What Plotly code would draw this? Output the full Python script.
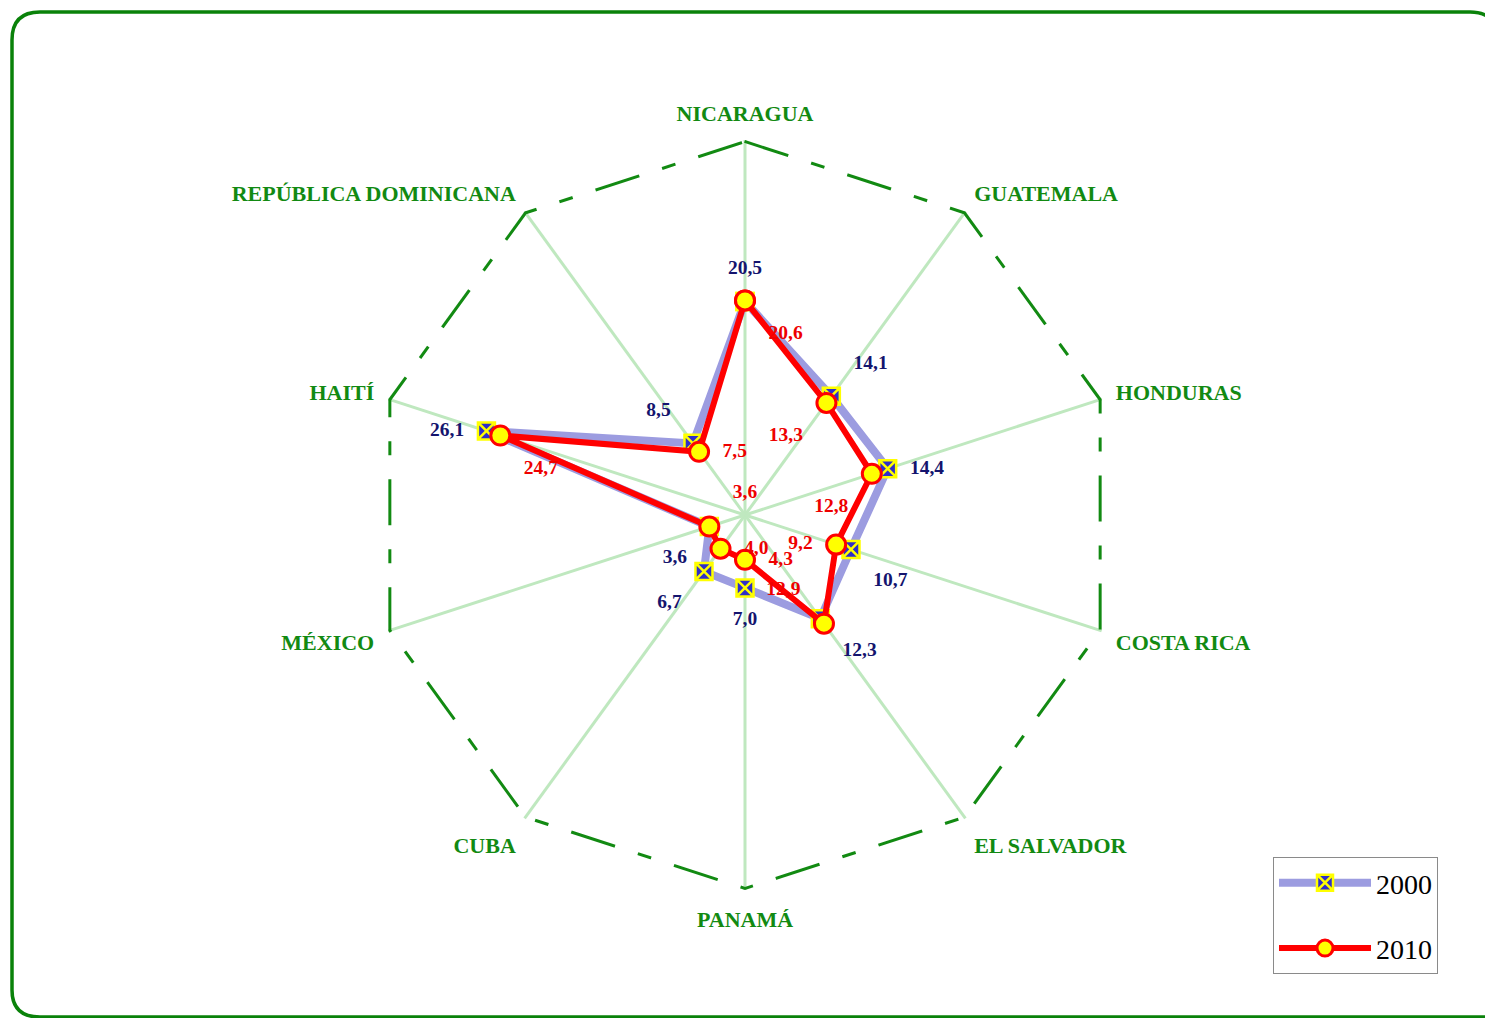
import plotly.graph_objects as go

# ---------------- data ----------------
categories = ["NICARAGUA", "GUATEMALA", "HONDURAS", "COSTA RICA", "EL SALVADOR",
              "PANAMÁ", "CUBA", "MÉXICO", "HAITÍ", "REPÚBLICA DOMINICANA"]
values_2000 = [20.5, 14.1, 14.4, 10.7, 12.3, 7.0, 6.7, 3.6, 26.1, 8.5]
values_2010 = [20.6, 13.3, 12.8, 9.2, 12.9, 4.3, 4.0, 3.6, 24.7, 7.5]
series_names = ["2000", "2010"]
axis_max = 36

# ---------------- styling ----------------
W, H = 1485, 1018
SERIF = "Liberation Serif, Times New Roman, serif"
GREEN = "#128a12"

pos_2000 = ["top center", "top right", "middle right", "bottom right", "bottom right",
            "bottom center", "bottom left", "bottom left", "middle left", "top left"]
pos_2010 = ["bottom right", "bottom left", "bottom left", "middle left", "top left",
            "middle right", "middle right", "top right", "bottom right", "middle right"]


def fmt(v):
    return f"{v:.1f}".replace(".", ",")


def closed(lst):
    return list(lst) + [lst[0]]


fig = go.Figure()

# outer dashed frame of the radar (at the axis maximum)
fig.add_trace(go.Scatterpolar(
    r=closed([axis_max] * len(categories)), theta=closed(categories),
    mode="lines", line=dict(color=GREEN, width=6, dash="46px,24px,14px,24px"),
    hoverinfo="skip", showlegend=False))

# 2000 series
fig.add_trace(go.Scatterpolar(
    r=closed(values_2000), theta=closed(categories), name=series_names[0],
    mode="lines+markers", legendgroup="a",
    line=dict(color="#9c9ce0", width=8),
    marker=dict(symbol="square-x", size=17, color="#2f2fc8",
                line=dict(color="#ffff00", width=2.5))))

# 2010 series
fig.add_trace(go.Scatterpolar(
    r=closed(values_2010), theta=closed(categories), name=series_names[1],
    mode="lines+markers", legendgroup="b",
    line=dict(color="#ff0000", width=6),
    marker=dict(symbol="circle", size=19, color="#ffff00",
                line=dict(color="#ff0000", width=3))))

# data labels (invisible markers only push the text away from the points)
fig.add_trace(go.Scatterpolar(
    r=values_2000, theta=categories, mode="markers+text", showlegend=False,
    marker=dict(size=34, color="rgba(0,0,0,0)"),
    text=[fmt(v) for v in values_2000], textposition=pos_2000,
    textfont=dict(family=SERIF, size=19.5, color="#14146e", weight="bold"),
    hoverinfo="skip"))
fig.add_trace(go.Scatterpolar(
    r=values_2010, theta=categories, mode="markers+text", showlegend=False,
    marker=dict(size=36, color="rgba(0,0,0,0)"),
    text=[fmt(v) for v in values_2010], textposition=pos_2010,
    textfont=dict(family=SERIF, size=19.5, color="#ee0000", weight="bold"),
    hoverinfo="skip"))

cx, cy, R = 745, 515, 375
fig.update_layout(
    width=W, height=H,
    margin=dict(l=0, r=0, t=0, b=0),
    paper_bgcolor="white", plot_bgcolor="white",
    polar=dict(
        domain=dict(x=[(cx - R) / W, (cx + R) / W],
                    y=[(H - cy - R) / H, (H - cy + R) / H]),
        bgcolor="white",
        gridshape="linear",
        radialaxis=dict(range=[0, axis_max], visible=False, showgrid=False),
        angularaxis=dict(
            direction="clockwise", rotation=90,
            showline=False, showgrid=True, gridcolor="#bfe8bf", gridwidth=2.5,
            ticks="outside", ticklen=10, tickcolor="rgba(0,0,0,0)",
            tickfont=dict(family=SERIF, size=22, color=GREEN, weight="bold"),
        ),
    ),
    legend=dict(
        x=1273 / W, y=1 - 857 / H, xanchor="left", yanchor="top",
        bgcolor="white", bordercolor="#8a8a8a", borderwidth=1,
        font=dict(family=SERIF, size=28, color="black"),
        tracegroupgap=26, itemwidth=92,
    ),
    shapes=[dict(
        type="path", xref="paper", yref="paper",
        path=(f"M {12/W} {1-40/H} Q {12/W} {1-12/H} {40/W} {1-12/H} "
              f"L {1470/W} {1-12/H} Q {1484/W} {1-12/H} {1492/W} {1-20/H} "
              f"M {12/W} {1-40/H} L {12/W} {1-990/H} Q {12/W} {1-1017/H} {40/W} {1-1017/H} "
              f"L {1490/W} {1-1017/H}"),
        line=dict(color="#0a820a", width=3.5))],
    showlegend=True,
)

fig.write_html("out.html", config={"displayModeBar": False},
               post_script="document.body.style.margin='0';")
